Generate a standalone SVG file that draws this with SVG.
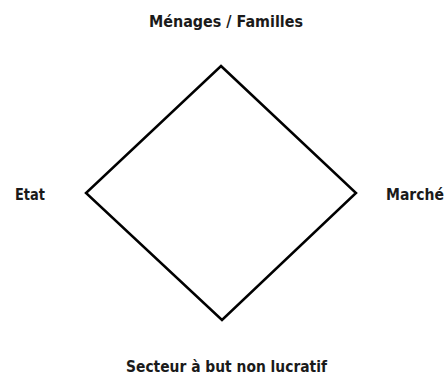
<svg xmlns="http://www.w3.org/2000/svg" width="445" height="376" viewBox="0 0 445 376">
<style>
text{font-family:"DejaVu Sans Condensed","DejaVu Sans",sans-serif;font-weight:bold;font-size:15.5px;fill:#1a1a1a}
.edge{fill:none;stroke:#000;stroke-width:2.5;stroke-linejoin:miter}
</style>
<rect width="445" height="376" fill="#fff"/>
<g id="connectors">
<path class="edge" d="M221,66 L356,193 L222,320 L86,193 Z"/>
</g>
<g id="menages"><text x="149" y="27" textLength="154" lengthAdjust="spacingAndGlyphs">Ménages / Familles</text></g>
<g id="etat"><text x="15" y="200" textLength="30" lengthAdjust="spacingAndGlyphs">Etat</text></g>
<g id="marche"><text x="386" y="200" textLength="58" lengthAdjust="spacingAndGlyphs">Marché</text></g>
<g id="secteur"><text x="126" y="372" textLength="201" lengthAdjust="spacingAndGlyphs">Secteur à but non lucratif</text></g>
</svg>
